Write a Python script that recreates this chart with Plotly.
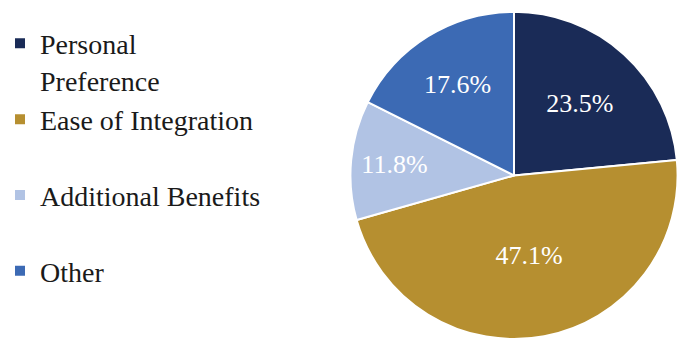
import plotly.graph_objects as go

labels = ["Personal<br>Preference", "Ease of Integration<br> ", "Additional Benefits<br> ", "Other<br> "]
values = [23.5, 47.1, 11.8, 17.6]
colors = ["#1a2b57", "#b68f30", "#b1c3e4", "#3c6ab4"]

fig = go.Figure(go.Pie(
    labels=labels,
    values=values,
    sort=False,
    direction="clockwise",
    rotation=0,
    marker=dict(colors=colors, line=dict(color="white", width=2)),
    texttemplate="%{value:.1f}%",
    textposition="inside",
    insidetextorientation="horizontal",
    textfont=dict(family="Liberation Serif", size=26, color="white"),
    domain=dict(x=[0.5155, 0.9985], y=[0.0, 0.965]),
    hoverinfo="label+percent",
))

fig.update_layout(
    width=679, height=339,
    margin=dict(l=0, r=0, t=0, b=0),
    paper_bgcolor="white",
    plot_bgcolor="white",
    font=dict(family="Liberation Serif", color="#1a1a1a"),
    showlegend=True,
    legend=dict(
        x=0, y=0.945, xanchor="left", yanchor="top",
        valign="top",
        font=dict(family="Liberation Serif", size=28, color="#1a1a1a"),
        bgcolor="rgba(0,0,0,0)",
        traceorder="normal",
    ),
)

fig.write_html("out.html")
